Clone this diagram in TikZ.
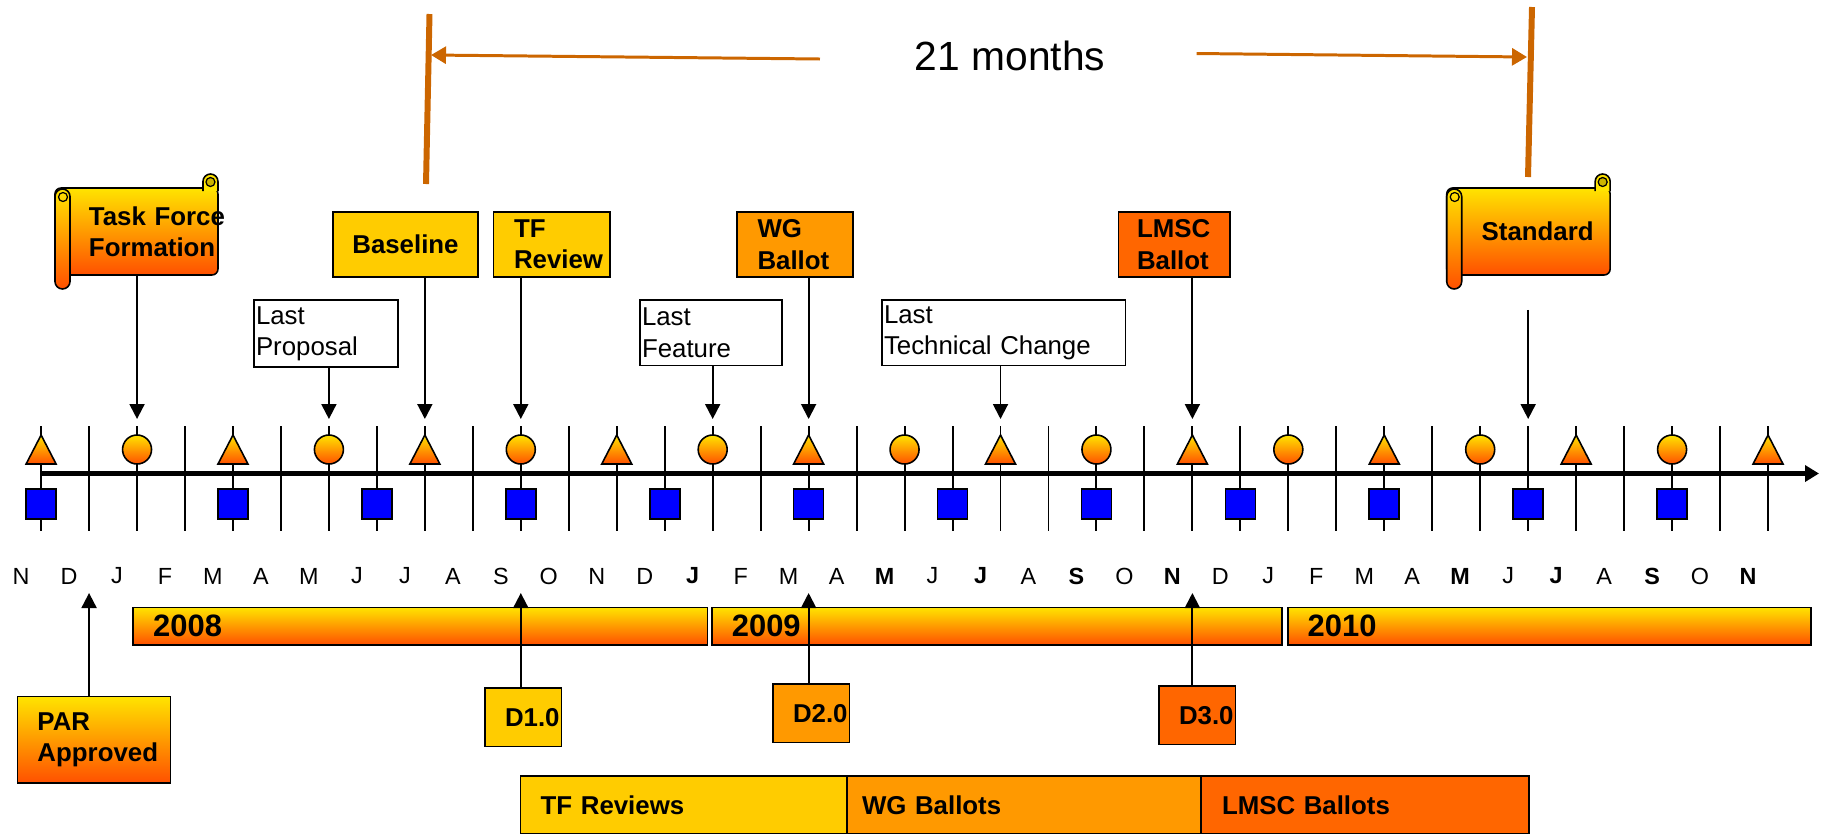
\documentclass[tikz,border=0pt]{standalone}
\usepackage{fontspec}
\setmainfont{Liberation Sans}
\usetikzlibrary{arrows.meta,shapes.geometric}

\definecolor{goldtop}{RGB}{255,228,0}
\definecolor{redbot}{RGB}{255,80,0}
\definecolor{tfyellow}{RGB}{255,204,0}
\definecolor{wgorange}{RGB}{255,153,0}
\definecolor{lmscred}{RGB}{255,102,0}
\definecolor{spanbrown}{RGB}{204,102,0}
\definecolor{curlolive}{RGB}{204,180,0}

\tikzset{
  tag/.style={draw, line width=0.9pt, anchor=north west, outer sep=0pt,
    inner ysep=0pt, align=left, font=\fontsize{14.7}{17.8}\selectfont\bfseries},
  note/.style={tag, fill=white, line width=0.7pt, inner xsep=0.4mm,
    font=\fontsize{14.7}{17.8}\selectfont},
  glow/.style={top color=goldtop, bottom color=redbot},
  pointer/.style={line width=1.1pt, -{Triangle[length=3mm,width=3mm]}},
  spanarrow/.style={spanbrown, line width=1.7pt, -{Triangle[length=3mm,width=3.4mm]}},
  spanbar/.style={spanbrown, line width=3.4pt},
  month/.style={font=\fontsize{13.3}{16}\selectfont},
  monthbold/.style={font=\fontsize{13.3}{16}\selectfont\bfseries},
  yearbar/.style={tag, glow, minimum height=7.5mm, inner xsep=4mm,
    font=\fontsize{17.6}{20}\selectfont\bfseries},
  draftbox/.style={tag, minimum height=11.7mm, inner xsep=4mm, text width=7.3mm},
  phasebar/.style={tag, minimum height=11.7mm},
}

\newcommand{\scrollrolls}[1]{%
  \draw[line width=0.9pt, fill=goldtop, rounded corners=1.5mm]
    ([shift={(-15,3)}]#1.north east) -- ([shift={(-15,-14)}]#1.north east)
    -- ([shift={(0,-14)}]#1.north east) -- ([shift={(0,3)}]#1.north east);
  \draw[line width=0.7pt, fill=curlolive] ([shift={(-7.5,-6)}]#1.north east) circle[radius=4.5];
  \draw[line width=0.9pt, glow, rounded corners=1.5mm]
    ([shift={(0,1)}]#1.north west) rectangle ([shift={(15,14)}]#1.south west);
  \draw[line width=0.7pt] ([shift={(8,9)}]#1.north west) circle[radius=4.5];
}

\begin{document}
\begin{tikzpicture}[x=0.02cm, y=-0.02cm]
  \useasboundingbox (0,0) rectangle (1825,833);

  \coordinate (spanLtop) at (429.5,14);
  \coordinate (spanLbot) at (426,184);
  \coordinate (spanLtip) at (431,55);
  \coordinate (spanRtop) at (1532,7);
  \coordinate (spanRbot) at (1528,177);
  \coordinate (spanRtip) at (1527,57);
  \node[font=\fontsize{23.2}{28}\selectfont, inner sep=0pt] (span) at (1010,56) {21 months};
  \draw[spanbar] (spanLtop) -- (spanLbot);
  \draw[spanbar] (spanRtop) -- (spanRbot);
  \draw[spanarrow] ([shift={(-94.5,3)}]span.west) -- (spanLtip);
  \draw[spanarrow] ([shift={(91,-2.5)}]span.east) -- (spanRtip);

  \foreach \mn/\ms [count=\k from 0] in {N/month, D/month, J/month, F/month,
      M/month, A/month, M/month, J/month, J/month, A/month, S/month, O/month,
      N/month, D/month, J/monthbold, F/month, M/month, A/month, M/monthbold,
      J/month, J/monthbold, A/month, S/monthbold, O/month, N/monthbold,
      D/month, J/month, F/month, M/month, A/month, M/monthbold, J/month,
      J/monthbold, A/month, S/monthbold, O/month, N/monthbold} {
    \pgfmathsetmacro{\tx}{41.1+47.97*\k}
    \coordinate (top\k) at (\tx,419);
    \coordinate (low\k) at (\tx,593);
    \draw[line width=1.1pt] (\tx,426) -- (\tx,531);
    \node[\ms] (m\k) at (\tx-20,576) {\mn};
  }

  \coordinate (axisL) at (41.1,473.5);
  \coordinate (axisR) at (1819,473.5);
  \draw[line width=2.5pt, -{Triangle[length=2.8mm,width=3.2mm]}] (axisL) -- (axisR);

  \foreach \k in {0,4,...,36} {
    \pgfmathsetmacro{\tx}{41.1+47.97*\k}
    \draw[glow, line width=0.9pt] (\tx-15,464) -- (\tx,435) -- (\tx+15,464) -- cycle;
  }
  \begin{scope}[every node/.style={draw, line width=0.9pt, inner sep=0pt, outer sep=0pt}]
    \foreach \k in {2,6,...,34} {
      \pgfmathsetmacro{\tx}{41.1+47.97*\k}
      \node[glow, circle, minimum size=5.8mm] (dot\k) at (\tx,449.5) {};
    }
    \foreach \k in {0,4,7,10,13,16,19,22,25,28,31,34} {
      \pgfmathsetmacro{\tx}{41.1+47.97*\k}
      \node[fill=blue, minimum size=6mm] (sq\k) at (\tx,504) {};
    }
  \end{scope}

  \node[tag, glow, rounded corners=1.2mm, minimum height=17.4mm, inner xsep=6.8mm, text width=19mm] (tff) at (55,188) {\mbox{Task Force}\\Formation};
  \scrollrolls{tff}
  \node[tag, glow, rounded corners=1.2mm, minimum height=17.4mm, inner xsep=7mm, text width=18.7mm] (std) at (1446.7,188) {Standard};
  \scrollrolls{std}

  \node[tag, fill=tfyellow, minimum width=29mm, minimum height=13mm, inner xsep=0pt, align=center] (bsl) at (333,212) {Baseline};
  \node[tag, fill=tfyellow, minimum height=13mm, inner xsep=4.1mm, text width=15.1mm] (tfr) at (493.5,212) {TF\\Review};
  \node[tag, fill=wgorange, minimum height=13mm, inner xsep=4.1mm, text width=15mm] (wgb) at (737,212) {WG\\Ballot};
  \node[tag, fill=lmscred, minimum height=13mm, inner xsep=3.7mm, text width=14.9mm] (lmb) at (1118.5,212) {LMSC\\Ballot};

  \node[note, minimum height=13.4mm, text width=28mm] (lpr) at (254,300) {Last\\Proposal};
  \node[note, minimum height=13.1mm, text width=27.6mm] (lft) at (640,300) {Last\\Feature};
  \node[note, minimum height=13.1mm, text width=47.9mm] (ltc) at (882,300) {Last\\Technical Change};

  \node[yearbar, text width=106.9mm] (y08) at (133.2,607.3) {2008};
  \node[yearbar, text width=106mm] (y09) at (711.9,607.3) {2009};
  \node[yearbar, text width=96.7mm] (y10) at (1287.7,607.3) {2010};

  \node[tag, glow, minimum height=17.3mm, inner xsep=4mm, text width=22.6mm] (par) at (17.5,696.5) {PAR\\Approved};
  \node[draftbox, fill=tfyellow] (d1) at (485,688) {D1.0};
  \node[draftbox, fill=wgorange] (d2) at (773,684) {D2.0};
  \node[draftbox, fill=lmscred] (d3) at (1159,686) {D3.0};

  \node[phasebar, fill=tfyellow, inner xsep=4mm, text width=57.3mm] (tfrs) at (520.7,775.7) {TF Reviews};
  \node[phasebar, fill=wgorange, inner xsep=3mm, text width=64.8mm] (wgbs) at (847,775.7) {WG Ballots};
  \node[phasebar, fill=lmscred, inner xsep=4.2mm, text width=57.2mm] (lmbs) at (1201,775.7) {LMSC Ballots};

  \draw[pointer] (tff.south -| top2) -- (top2);
  \draw[pointer] (lpr.south -| top6) -- (top6);
  \draw[pointer] (bsl.south -| top8) -- (top8);
  \draw[pointer] (tfr.south -| top10) -- (top10);
  \draw[pointer] (lft.south -| top14) -- (top14);
  \draw[pointer] (wgb.south -| top16) -- (top16);
  \draw[pointer] (ltc.south -| top20) -- (top20);
  \draw[pointer] (lmb.south -| top24) -- (top24);
  \draw[pointer, shorten <=7mm] (std.south -| top31) -- (top31);

  \draw[pointer] (par.north -| low1) -- (low1);
  \draw[pointer] (d1.north -| low10) -- (low10);
  \draw[pointer] (d2.north -| low16) -- (low16);
  \draw[pointer] (d3.north -| low24) -- (low24);
\end{tikzpicture}
\end{document}
